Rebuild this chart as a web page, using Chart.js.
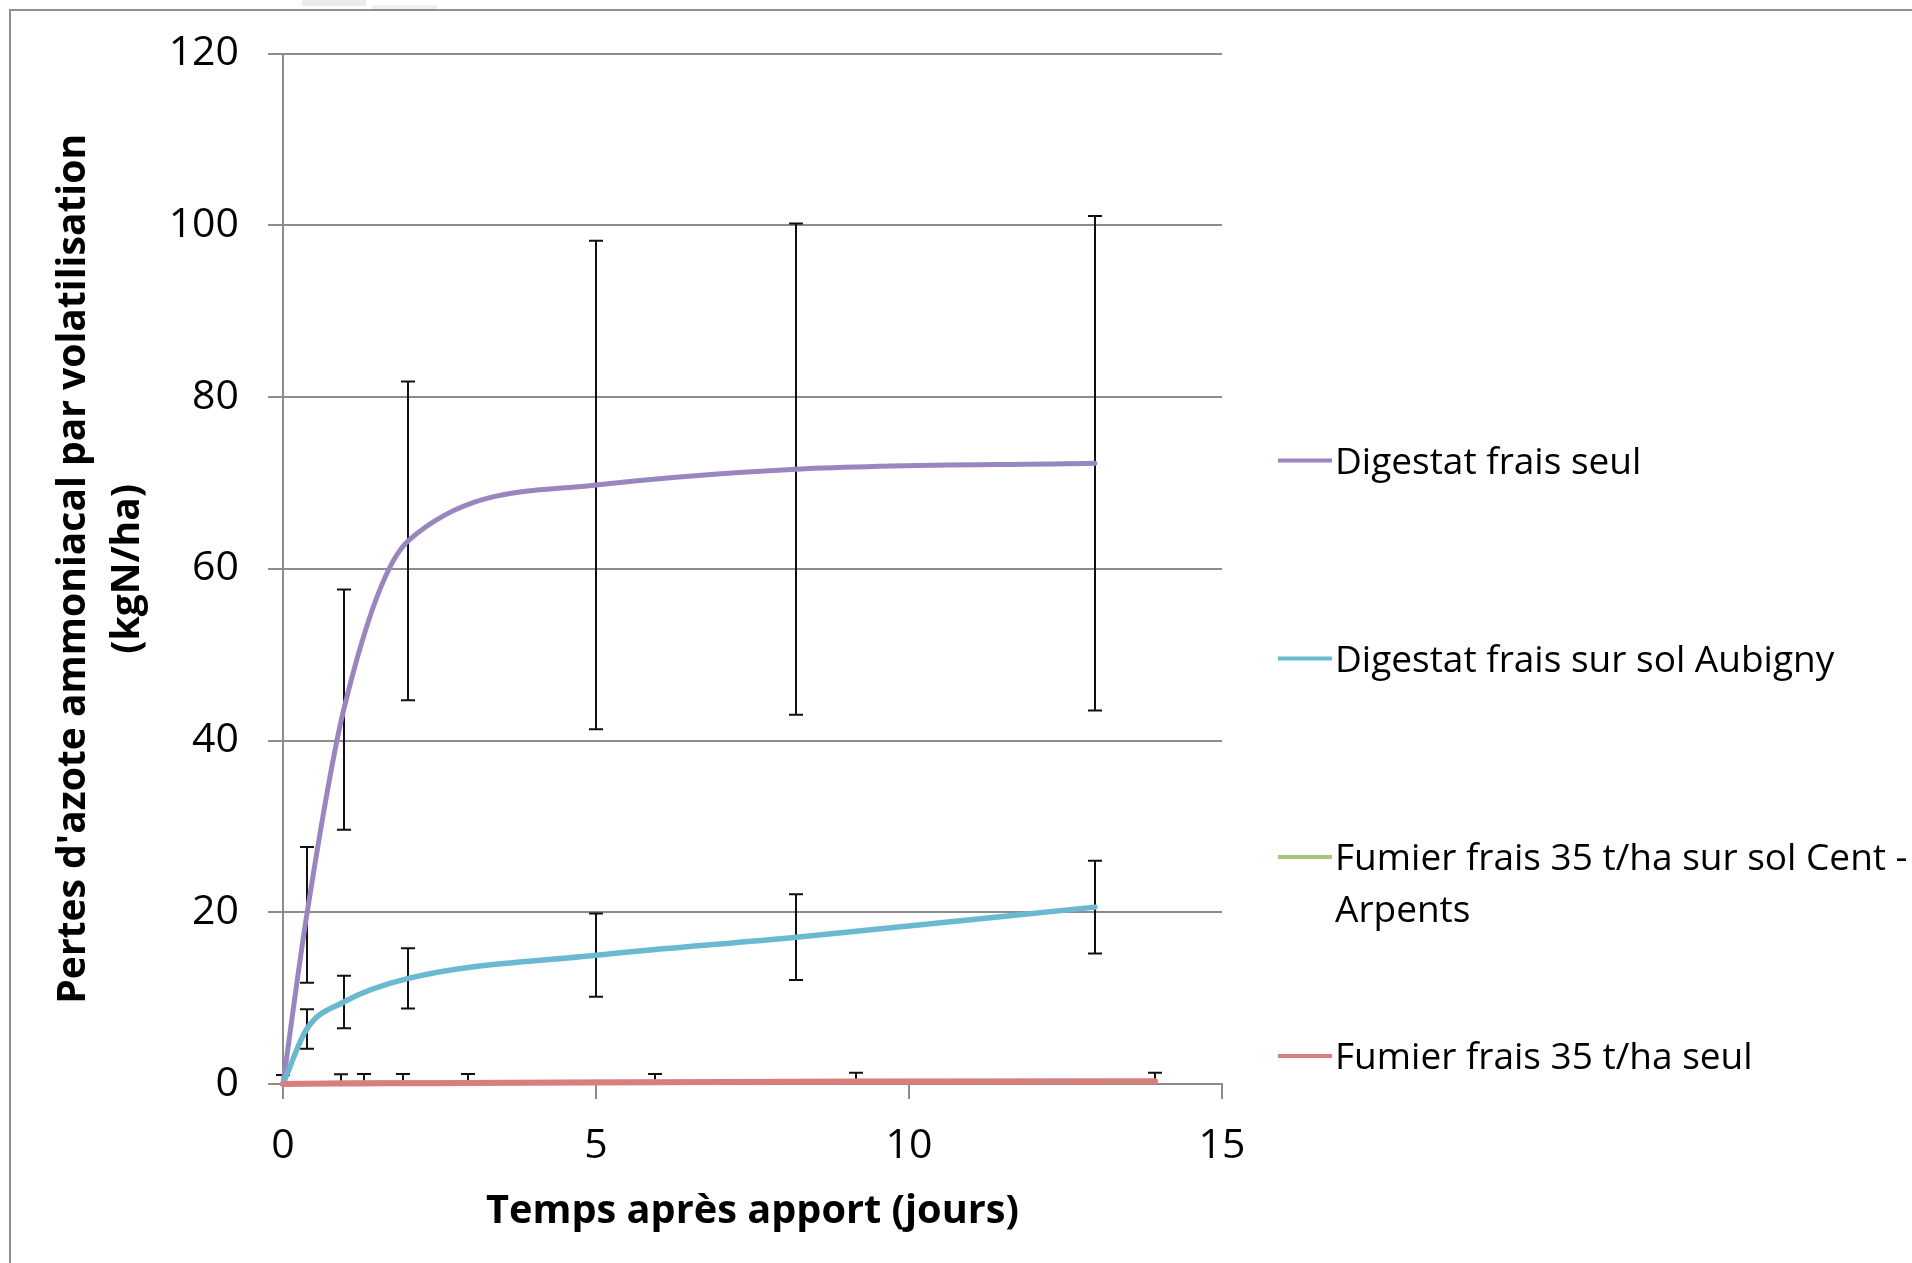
<!DOCTYPE html>
<html><head><meta charset="utf-8">
<script src="https://cdn.jsdelivr.net/npm/chart.js@4/dist/chart.umd.min.js"></script>
<style>html,body{margin:0;padding:0;background:#fff;overflow:hidden}canvas{display:block}</style>
</head><body>
<canvas id="c" width="1912" height="1263"></canvas>
<script>
// ---- data ----
const xTitle = 'Temps après apport (jours)';
const yTitle = ["Pertes d'azote ammoniacal par volatilisation", '(kgN/ha)'];
const seriesNames = ['Digestat frais seul', 'Digestat frais sur sol Aubigny', 'Fumier frais 35 t/ha sur sol Cent - Arpents', 'Fumier frais 35 t/ha seul'];
const legendLines = [['Digestat frais seul'], ['Digestat frais sur sol Aubigny'], ['Fumier frais 35 t/ha sur sol Cent -', 'Arpents'], ['Fumier frais 35 t/ha seul']];
const xTickValues = [0, 5, 10, 15];
const yTickValues = [0, 20, 40, 60, 80, 100, 120];

const digestatDays = [0, 0.38, 0.97, 2.0, 5.0, 8.2, 12.97];
const digestatSeul = [0, 19.7, 43.6, 63.25, 69.75, 71.6, 72.3];
const digestatSeulErr = [0, 7.9, 14.0, 18.55, 28.45, 28.6, 28.8];
const digestatAubigny = [0, 6.4, 9.55, 12.3, 15.0, 17.1, 20.6];
const digestatAubignyErr = [0, 2.3, 3.05, 3.5, 4.85, 5.0, 5.4];

const fumierDays = [0, 0.93, 1.3, 1.92, 2.96, 5.95, 9.15, 13.93];
const fumierCent = [0, 0.12, 0.14, 0.16, 0.18, 0.22];
const fumierSeul = [0, 0.06, 0.07, 0.09, 0.11, 0.2, 0.3, 0.32];
const fumierSeulErr = [1.05, 1.09, 1.09, 1.07, 1.05, 0.96, 1.01, 0.99];

const colors = ['#9a86bf', '#6bb9d1', '#aac478', '#d67f7e'];
const widths = [5, 5.5, 5, 6];

function pts(xs, ys) { return ys.map((v, i) => ({x: xs[i], y: v})); }

const FONT = "'Open Sans'";

const framePlugin = {
  id: 'frame',
  beforeDraw(chart) {
    const ctx = chart.ctx;
    ctx.save();
    ctx.fillStyle = '#fff';
    ctx.fillRect(0, 0, chart.width, chart.height);
    ctx.fillStyle = '#ececec';
    ctx.fillRect(302, 0, 64, 6);
    ctx.fillStyle = '#f0f0f0';
    ctx.fillRect(372, 5, 65, 5);
    ctx.strokeStyle = '#8e8e8e';
    ctx.lineWidth = 2;
    ctx.beginPath();
    ctx.moveTo(10, chart.height + 5);
    ctx.lineTo(10, 10);
    ctx.lineTo(chart.width + 5, 10);
    ctx.stroke();
    ctx.restore();
  }
};

const errorBarPlugin = {
  id: 'errbars',
  beforeDatasetsDraw(chart) {
    const {ctx, scales: {x, y}} = chart;
    ctx.save();
    ctx.strokeStyle = '#111';
    ctx.lineWidth = 2;
    chart.data.datasets.forEach(ds => {
      if (!ds.errors) return;
      ds.data.forEach((p, i) => {
        const e = ds.errors[i];
        if (!e) return;
        const px = Math.round(x.getPixelForValue(p.x));
        const hi = y.getPixelForValue(p.y + e);
        const loV = p.y - e;
        const lo = y.getPixelForValue(Math.max(loV, 0));
        ctx.beginPath();
        ctx.moveTo(px, hi); ctx.lineTo(px, lo);
        ctx.moveTo(px - 7, hi); ctx.lineTo(px + 7, hi);
        if (loV >= 0) { ctx.moveTo(px - 7, lo); ctx.lineTo(px + 7, lo); }
        ctx.stroke();
      });
    });
    ctx.restore();
  }
};

const legendPlugin = {
  id: 'sideLegend',
  afterDraw(chart) {
    const ctx = chart.ctx;
    const ys = [460.5, 658.5, 857, 1056];
    ctx.save();
    ctx.font = '37px ' + FONT;
    ctx.fillStyle = '#000';
    ctx.textBaseline = 'alphabetic';
    ctx.textAlign = 'left';
    legendLines.forEach((lines, i) => {
      const yy = ys[i];
      ctx.strokeStyle = colors[i];
      ctx.lineWidth = 4;
      ctx.beginPath();
      ctx.moveTo(1278, yy); ctx.lineTo(1332, yy);
      ctx.stroke();
      lines.forEach((t, j) => ctx.fillText(t, 1335, yy + 13 + j * 52));
    });
    ctx.restore();
  }
};

const gridColor = '#8c8c8c';

new Chart(document.getElementById('c'), {
  type: 'line',
  data: {
    datasets: [
      {label: seriesNames[0], data: pts(digestatDays, digestatSeul), errors: digestatSeulErr, borderColor: colors[0], borderWidth: widths[0], order: 4},
      {label: seriesNames[1], data: pts(digestatDays, digestatAubigny), errors: digestatAubignyErr, borderColor: colors[1], borderWidth: widths[1], order: 3},
      {label: seriesNames[2], data: pts(fumierDays, fumierCent), borderColor: colors[2], borderWidth: widths[2], order: 2},
      {label: seriesNames[3], data: pts(fumierDays, fumierSeul), errors: fumierSeulErr, borderColor: colors[3], borderWidth: widths[3], order: 1}
    ].map(d => Object.assign({pointRadius: 0, pointHoverRadius: 0, cubicInterpolationMode: 'monotone', fill: false, clip: false, borderJoinStyle: 'round', borderCapStyle: 'round'}, d))
  },
  options: {
    responsive: false,
    animation: false,
    events: [],
    layout: {padding: {left: 0, top: 52, right: 690, bottom: 0}},
    plugins: {legend: {display: false}, tooltip: {enabled: false}},
    scales: {
      x: {
        type: 'linear', min: 0, max: 15,
        afterBuildTicks: s => { s.ticks = xTickValues.map(v => ({value: v})); },
        afterFit: s => { s.height = 179; },
        grid: {drawOnChartArea: false, drawTicks: true, tickLength: 15, color: gridColor, lineWidth: 2},
        border: {display: true, color: gridColor, width: 2},
        ticks: {font: {family: FONT, size: 41}, color: '#000', padding: 23, maxRotation: 0, autoSkip: false},
        title: {display: true, text: xTitle, color: '#000', font: {family: FONT, size: 39.7, weight: 'bold'}, padding: {top: 0, bottom: 27}}
      },
      y: {
        type: 'linear', min: 0, max: 120,
        afterBuildTicks: s => { s.ticks = yTickValues.map(v => ({value: v})); },
        afterFit: s => { s.width = 283; },
        grid: {drawOnChartArea: true, drawTicks: true, tickLength: 15, color: gridColor, lineWidth: 2},
        border: {display: true, color: gridColor, width: 2},
        ticks: {font: {family: FONT, size: 41}, color: '#000', padding: 29, autoSkip: false},
        title: {display: true, text: yTitle, color: '#000', font: {family: FONT, size: 39, weight: 'bold', lineHeight: 1.38}, padding: {top: 47, bottom: 0}}
      }
    }
  },
  plugins: [framePlugin, errorBarPlugin, legendPlugin]
});
</script>
</body></html>
